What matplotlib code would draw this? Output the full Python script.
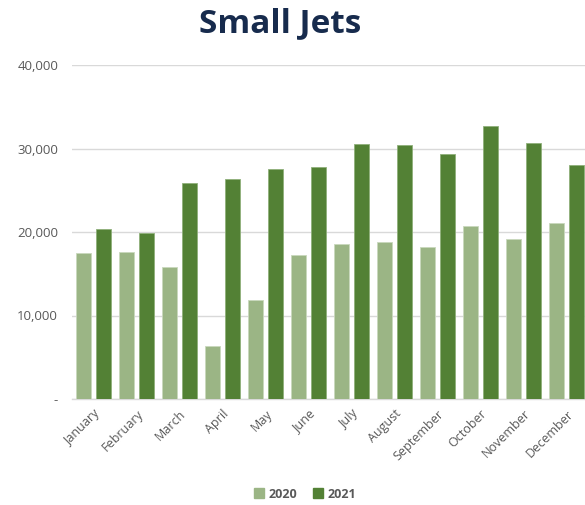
import matplotlib.pyplot as plt
import numpy as np
from matplotlib.patches import Patch

months = ['January', 'February', 'March', 'April', 'May', 'June',
          'July', 'August', 'September', 'October', 'November', 'December']
jets_2020 = [17450, 17600, 15850, 6350, 11860, 17250,
             18570, 18800, 18200, 20710, 19120, 21040]
jets_2021 = [20320, 19840, 25830, 26390, 27500, 27800,
             30520, 30440, 29290, 32670, 30680, 28000]
y_ticks = [0, 10000, 20000, 30000, 40000]
y_labels = ['-', '10,000', '20,000', '30,000', '40,000']

light = '#9BB585'
dark = '#538135'
grey = '#595959'

plt.rcParams['font.family'] = ['Open Sans', 'DejaVu Sans']

fig = plt.figure(figsize=(5.85, 5.05), dpi=100)
ax = fig.add_axes([72/585, 106/505, 516/585, 334/505])

x = np.arange(len(months))
w = 0.36
ax.bar(x - 0.227, jets_2020, w, color=light, edgecolor='#c9d8bd', linewidth=0.6, zorder=3)
ax.bar(x + 0.227, jets_2021, w, color=dark, edgecolor='#8fb07a', linewidth=0.6, zorder=3)

ax.set_xlim(-0.5, 11.5)
ax.set_ylim(0, 40000)
ax.set_yticks(y_ticks)
ax.set_yticklabels(y_labels, color=grey, fontsize=9.5)
ax.set_xticks(x)
ax.set_xticklabels(months, rotation=45, ha='right', rotation_mode='anchor',
                   color=grey, fontsize=9)
ax.tick_params(axis='both', length=0)
ax.tick_params(axis='y', pad=10)
ax.tick_params(axis='x', pad=6)
ax.grid(axis='y', color='#d9d9d9', linewidth=1, zorder=0)
for s in ['top', 'right', 'left']:
    ax.spines[s].set_visible(False)
ax.spines['bottom'].set_color('#d9d9d9')
ax.spines['bottom'].set_linewidth(1)

fig.text(280/585, 1 - 24/505, 'Small Jets', ha='center', va='center',
         fontsize=24, fontweight='bold', color='#172B4D')

handles = [Patch(color=light, label='2020'), Patch(color=dark, label='2021')]
leg = fig.legend(handles=handles, loc='center', bbox_to_anchor=(305/585, 1 - 494/505),
                 ncol=2, frameon=False, handlelength=0.8, handleheight=0.8,
                 handletextpad=0.4, columnspacing=1.2,
                 prop={'size': 9, 'weight': 'bold'})
for t in leg.get_texts():
    t.set_color(grey)

fig.savefig('out.png', dpi=100)
